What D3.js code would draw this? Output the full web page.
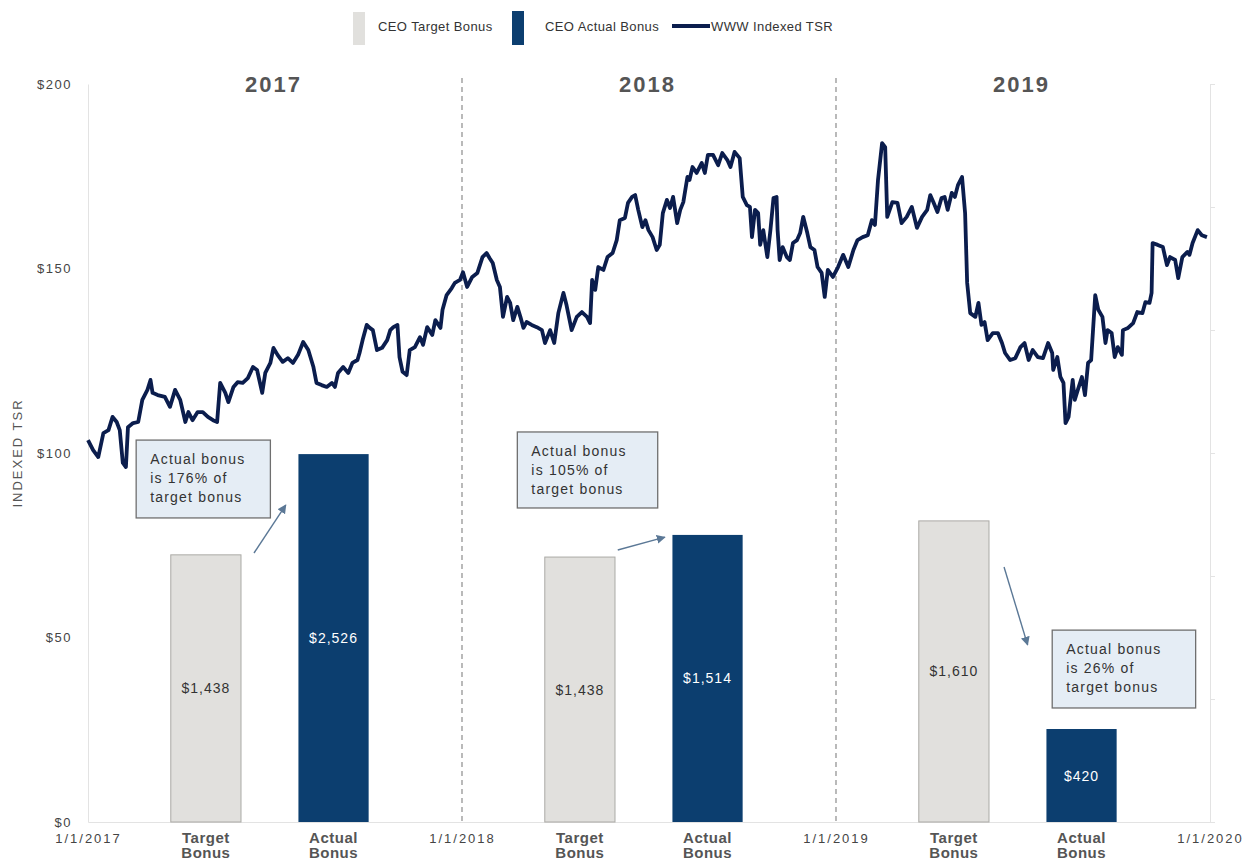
<!DOCTYPE html>
<html lang="en">
<head>
    <meta charset="UTF-8">
    <title>CEO Bonus vs Indexed TSR</title>
    <script src="https://d3js.org/d3.v7.min.js"></script>
    <style>
        body { margin: 0; background: #fff; font-family: Arial, "Liberation Sans", sans-serif; }
        svg text { font-family: Arial, "Liberation Sans", sans-serif; }
    </style>
</head>
<body>
<svg id="chart" width="1245" height="860"></svg>
<script>
    // ---- data ----
    const years = [2017, 2018, 2019];
    const bonusCategories = ["Target Bonus", "Actual Bonus"];
    const targetBonus = [1438, 1438, 1610];          // $000s, bar labels
    const actualBonus = [2526, 1514, 420];
    const targetBarHeight = [72.4, 71.8, 81.6];      // bar tops read against the TSR axis
    const actualBarHeight = [99.7, 77.8, 25.2];
    const bonusPct = ["176%", "105%", "26%"];
    const yTicks = [0, 50, 100, 150, 200];
    const xTickLabels = ["1/1/2017", "1/1/2018", "1/1/2019", "1/1/2020"];

    // WWW indexed TSR: [days since 1/1/2017, value]
    const tsr = [
        [0,103.5],[5,100.8],[10,98.9],[15,105.4],[20,106.2],[24,109.8],[28,108.4],[31,106.2],[34,97.3],[37,96.2],
        [39,107],[44,108.1],[49,108.4],[53,114.4],[58,117.1],[61,119.8],[63,116.3],[68,115.7],[75,115.2],[80,112.5],
        [85,117.1],[90,114.4],[95,108.4],[98,111.1],[102,108.9],[107,111.1],[112,111.1],[117,109.8],[122,108.9],[126,108.4],
        [129,119],[134,116.3],[137,113.8],[142,117.9],[146,119.2],[151,119],[156,120.3],[161,123.3],[165,122.5],[170,116.3],
        [173,121.7],[178,124.4],[181,128.5],[185,126.6],[190,124.7],[195,125.7],[200,124.4],[205,126.6],[210,130.1],[215,127.9],
        [220,123.3],[223,119],[228,118.4],[233,117.9],[238,119],[241,117.9],[244,121.7],[249,123.3],[254,121.7],[258,124.4],
        [263,125.2],[265,127.1],[268,130.6],[272,134.7],[275,133.9],[278,133.3],[282,127.9],[287,128.5],[292,130.6],[295,133.3],
        [298,134.1],[302,134.7],[304,126],[307,122],[311,121.1],[314,127.9],[319,128.7],[324,131.4],[327,129.3],[331,134.1],
        [336,132],[339,136],[344,133.9],[346,138.8],[350,142.8],[355,144.7],[358,146.1],[363,146.9],
        [366,149],[370,145],[375,147.7],[380,148.8],[385,153.1],[389,154.2],[392,152.8],[395,151.5],[399,146.9],[402,145],
        [405,136.9],[409,142.3],[412,140.7],[415,136],[419,139.6],[422,136.9],[425,133.9],[428,135.5],[433,134.7],[438,134.1],
        [443,133.3],[446,129.8],[451,133.3],[455,129.8],[459,137.9],[464,143.4],[467,140.1],[472,133.3],[477,136.9],[482,138.2],
        [487,136.9],[490,135.2],[492,146.9],[495,144.2],[498,150.4],[503,149.6],[507,153.1],[512,154.2],[516,157.7],[519,163.1],
        [524,163.7],[527,167.8],[531,169.4],[534,169.9],[537,165.9],[541,161.2],[544,163.1],[547,160.4],[551,158.5],[555,155],
        [558,156.4],[561,165],[565,168.6],[568,166.4],[571,169.4],[575,162.3],[578,165.9],[581,168],[585,174.8],[587,174],
        [590,177.5],[594,175.9],[599,178.6],[602,175.9],[605,180.8],[610,180.8],[615,178],[619,181.3],[624,179.4],[627,177.5],
        [631,181.6],[636,179.9],[639,169.4],[643,167.2],[646,166.7],[648,158.5],[651,165.9],[654,165],[656,156.4],[659,160.4],
        [663,153.1],[666,160.4],[669,169.1],[672,169.4],[673,160.4],[675,152.3],[678,155.8],[682,153.1],[685,152.3],[688,156.9],
        [692,157.7],[695,159.6],[698,164],[702,159.6],[705,155.8],[709,155],[712,150.4],[716,148.8],[719,142.3],[722,149.6],
        [727,147.7],[732,150.4],
        [737,153.7],[742,150.4],[747,155],[751,157.7],[756,158.5],[761,159],[765,163.1],[768,161.8],[771,174],[775,184],
        [778,182.9],[780,164],[785,168],[790,167.8],[794,162.3],[799,164],[804,166.7],[809,161],[814,164],[819,165.9],
        [822,169.9],[825,168],[829,165.3],[833,169.1],[836,169.4],[839,165.9],[843,170.5],[846,169.4],[849,172.6],[853,174.8],
        [856,165],[858,146.1],[861,137.9],[866,136.9],[869,140.7],[872,134.7],[875,135.5],[878,130.6],[883,132.5],[888,132.5],
        [892,129.8],[895,127.1],[900,125.2],[905,125.7],[910,128.7],[914,129.8],[918,125.2],[922,127.9],[927,126],[932,125.7],
        [937,129.8],[941,127.1],[942,122.5],[946,126],[949,120.6],[952,119],[954,108.1],[957,109.8],[961,119.8],[963,114.4],
        [966,117.1],[970,120.6],[973,115.7],[976,124.4],[979,125.2],[983,142.8],[986,138.8],[990,136.9],[993,129.8],[995,133.3],
        [999,132.5],[1002,126],[1005,128.7],[1009,126.6],[1010,133.3],[1015,133.9],[1020,135.2],[1024,138.2],[1029,137.9],[1032,140.9],
        [1036,140.7],[1038,143.4],[1039,156.9],[1044,156.4],[1049,155.8],[1053,150.9],[1056,153.1],[1061,152.3],[1064,147.4],[1068,153.1],
        [1073,154.5],[1075,153.7],[1078,156.9],[1083,160.4],[1087,159],[1092,158.5]
    ];

    // ---- layout ----
    const margin = { top: 84, right: 35, bottom: 38, left: 88 };
    const width = 1245 - margin.left - margin.right;
    const height = 860 - margin.top - margin.bottom;
    const start = new Date(2017, 0, 1);

    const root = d3.select("#chart");
    const svg = root.append("g")
        .attr("transform", `translate(${margin.left},${margin.top})`);

    const x = d3.scaleTime()
        .domain([start, new Date(2020, 0, 1)])
        .range([0, width]);
    const y = d3.scaleLinear().domain([0, 200]).range([height, 0]);
    const bonusAxisScale = d3.scaleLinear().domain([0, 3000]).range([height, 0]);
    const dayX = d => x(d3.timeDay.offset(start, d));

    // axes
    const yAxis = svg.append("g")
        .call(d3.axisLeft(y).tickValues(yTicks).tickSize(0).tickPadding(16).tickFormat(d => "$" + d));
    yAxis.select(".domain").attr("stroke", "#e3e3e3");
    yAxis.selectAll("text").attr("font-size", 13).attr("fill", "#444").style("letter-spacing", "1.5px");

    const yearDates = years.concat([2020]).map(yr => new Date(yr, 0, 1));
    const xAxis = svg.append("g")
        .attr("transform", `translate(0,${height})`)
        .call(d3.axisBottom(x).tickValues(yearDates).tickSize(0).tickPadding(12)
            .tickFormat((d, i) => xTickLabels[i]));
    xAxis.select(".domain").attr("stroke", "#e3e3e3");
    xAxis.selectAll("text").attr("font-size", 13).attr("fill", "#444").style("letter-spacing", "2px");

    const rAxis = svg.append("g")
        .attr("transform", `translate(${width},0)`)
        .call(d3.axisRight(bonusAxisScale).tickValues(d3.range(0, 3001, 500)).tickSize(5).tickFormat(""));
    rAxis.selectAll("path, line").attr("stroke", "#e3e3e3");

    root.append("text")
        .attr("transform", `translate(22,${margin.top + y(100)}) rotate(-90)`)
        .attr("text-anchor", "middle")
        .attr("font-size", 13)
        .attr("fill", "#555")
        .style("letter-spacing", "2px")
        .text("INDEXED TSR");

    // year separators
    svg.selectAll(".sep")
        .data(yearDates.slice(1, 3))
        .enter().append("line")
        .attr("x1", d => x(d)).attr("x2", d => x(d))
        .attr("y1", -6).attr("y2", height)
        .attr("stroke", "#8c8c8c")
        .attr("stroke-width", 1.2)
        .attr("stroke-dasharray", "5,4");

    // year titles
    svg.selectAll(".year")
        .data(years)
        .enter().append("text")
        .attr("x", yr => x(new Date(yr, 6, 1)))
        .attr("y", 8)
        .attr("text-anchor", "middle")
        .attr("font-size", 22)
        .attr("font-weight", "bold")
        .attr("fill", "#555")
        .style("letter-spacing", "2px")
        .text(d => d);

    // bars
    const bars = [];
    let barW = 0;
    years.forEach((yr, i) => {
        const slot = d3.scaleBand()
            .domain(bonusCategories)
            .range([x(new Date(yr, 0, 1)), x(new Date(yr + 1, 0, 1))])
            .paddingInner(0.45)
            .paddingOuter(0.69)
            .align(0.47);
        barW = slot.bandwidth();
        bars.push({ cat: bonusCategories[0], x0: slot(bonusCategories[0]), h: targetBarHeight[i], v: targetBonus[i], kind: "target" });
        bars.push({ cat: bonusCategories[1], x0: slot(bonusCategories[1]), h: actualBarHeight[i], v: actualBonus[i], kind: "actual" });
    });

    svg.selectAll(".bar")
        .data(bars)
        .enter().append("rect")
        .attr("x", d => d.x0)
        .attr("y", d => y(d.h))
        .attr("width", barW)
        .attr("height", d => height - y(d.h))
        .attr("fill", d => d.kind === "target" ? "#e1e0dd" : "#0c3e6f")
        .attr("stroke", d => d.kind === "target" ? "#abaaa6" : "none");

    svg.selectAll(".barlabel")
        .data(bars)
        .enter().append("text")
        .attr("x", d => d.x0 + barW / 2)
        .attr("y", d => (y(d.h) + height) / 2 + 5)
        .attr("text-anchor", "middle")
        .attr("font-size", 14)
        .attr("fill", d => d.kind === "target" ? "#333" : "#fff")
        .style("letter-spacing", "1px")
        .text(d => "$" + d3.format(",")(d.v));

    const cat = svg.selectAll(".cat")
        .data(bars)
        .enter().append("text")
        .attr("text-anchor", "middle")
        .attr("font-size", 15)
        .attr("font-weight", "bold")
        .attr("fill", "#555")
        .style("letter-spacing", "0.5px");
    cat.append("tspan").attr("x", d => d.x0 + barW / 2).attr("y", height + 21).text(d => d.cat.split(" ")[0]);
    cat.append("tspan").attr("x", d => d.x0 + barW / 2).attr("y", height + 36).text(d => d.cat.split(" ")[1]);

    // TSR line
    const line = d3.line()
        .x(d => dayX(d[0]))
        .y(d => y(d[1]));
    svg.append("path")
        .datum(tsr)
        .attr("d", line)
        .attr("fill", "none")
        .attr("stroke", "#0b1d4d")
        .attr("stroke-width", 3.8)
        .attr("stroke-linejoin", "round");

    // annotations (box: day0, day1, top value, bottom value; arrow: day, value -> day, value)
    const noteLayout = [
        { box: [47, 178, 103.5, 82.4], arrow: [162, 72.9, 193, 85.9] },
        { box: [419, 556, 105.7, 85.1], arrow: [517, 73.7, 563, 77.2] },
        { box: [941, 1081, 52, 30.9], arrow: [894, 69.1, 917, 48] }
    ];

    root.append("defs").append("marker")
        .attr("id", "arrow")
        .attr("viewBox", "0 0 10 10")
        .attr("refX", 9).attr("refY", 5)
        .attr("markerWidth", 9).attr("markerHeight", 9)
        .attr("markerUnits", "userSpaceOnUse")
        .attr("orient", "auto")
        .append("path")
        .attr("d", "M0,0L10,5L0,10Z")
        .attr("fill", "#5b7896");

    noteLayout.forEach((n, i) => {
        const [d0, d1, v0, v1] = n.box;
        const bx = dayX(d0), by = y(v0);
        svg.append("rect")
            .attr("x", bx).attr("y", by)
            .attr("width", dayX(d1) - bx)
            .attr("height", y(v1) - by)
            .attr("fill", "#e5edf5")
            .attr("stroke", "#6f6f6f")
            .attr("stroke-width", 1.3);
        const lines = ["Actual bonus", "is " + bonusPct[i] + " of", "target bonus"];
        svg.append("text")
            .attr("font-size", 14)
            .attr("fill", "#333")
            .style("letter-spacing", "1.2px")
            .selectAll("tspan")
            .data(lines)
            .enter().append("tspan")
            .attr("x", bx + 14)
            .attr("y", (d, k) => by + 24 + k * 19)
            .text(d => d);

        const [a0, av0, a1, av1] = n.arrow;
        svg.append("line")
            .attr("x1", dayX(a0)).attr("y1", y(av0))
            .attr("x2", dayX(a1)).attr("y2", y(av1))
            .attr("stroke", "#5b7896")
            .attr("stroke-width", 1.4)
            .attr("marker-end", "url(#arrow)");
    });

    // legend
    const legend = root.append("g").attr("font-size", 13).attr("fill", "#333").style("letter-spacing", "0.4px");
    legend.append("rect").attr("x", 353).attr("y", 12).attr("width", 12).attr("height", 33).attr("fill", "#e1e0dd");
    legend.append("text").attr("x", 378).attr("y", 31).text("CEO Target Bonus");
    legend.append("rect").attr("x", 512).attr("y", 11).attr("width", 12).attr("height", 34).attr("fill", "#0c3e6f");
    legend.append("text").attr("x", 545).attr("y", 31).text("CEO Actual Bonus");
    legend.append("line").attr("x1", 672).attr("x2", 710).attr("y1", 26).attr("y2", 26)
        .attr("stroke", "#0b1d4d").attr("stroke-width", 4);
    legend.append("text").attr("x", 711).attr("y", 31).text("WWW Indexed TSR");
</script>
</body>
</html>
